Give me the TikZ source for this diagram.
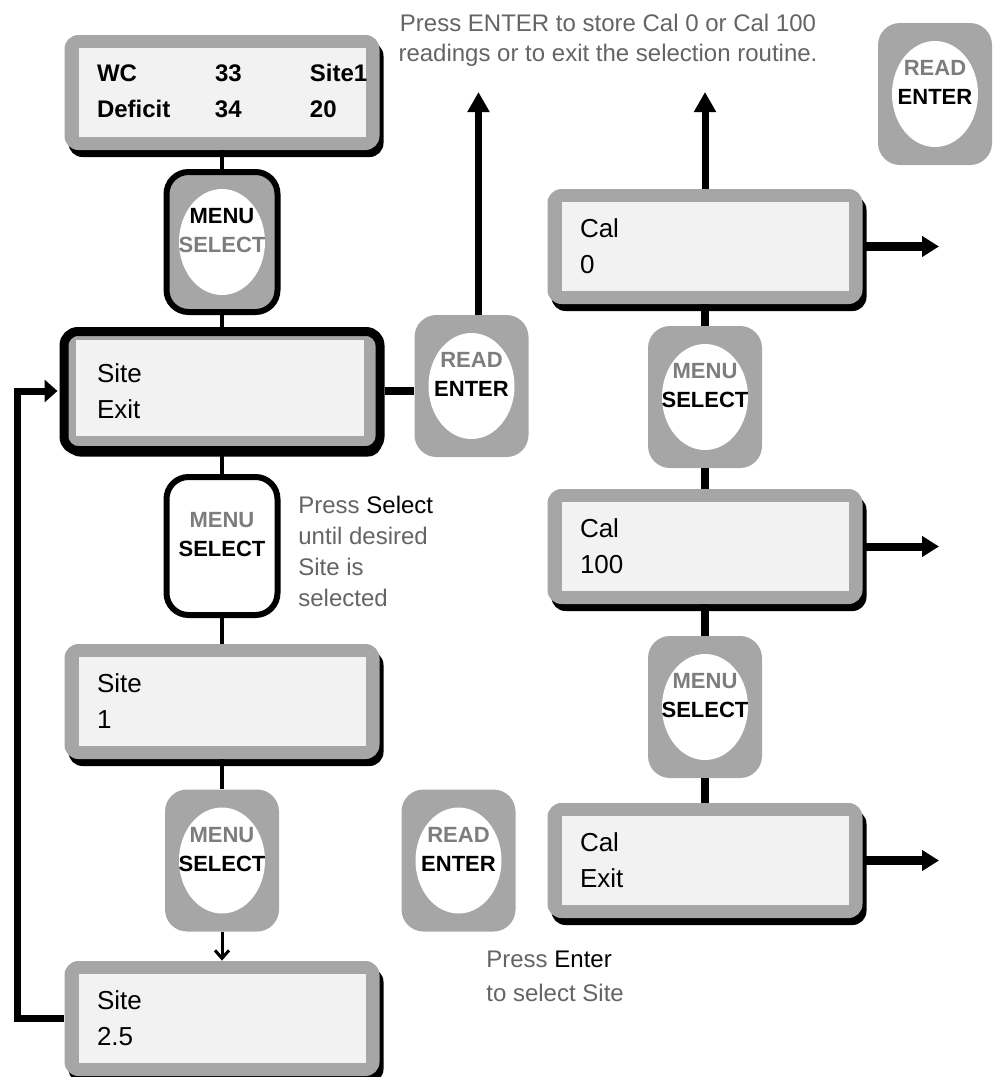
\documentclass[tikz,border=0pt]{standalone}
\usepackage{fontspec}
\setmainfont{Liberation Sans}
\usepackage{tikz}
\usetikzlibrary{arrows.meta,positioning,calc,shadows}

\definecolor{lcdgray}{RGB}{166,166,166}
\definecolor{lcdlight}{RGB}{242,242,242}
\definecolor{keygray}{RGB}{125,125,125}
\definecolor{notegray}{RGB}{100,100,100}

\newcommand{\keytext}[4]{\begin{tabular}{@{}c@{}}\textcolor{#1}{#2}\\\textcolor{#3}{#4}\end{tabular}}

\begin{document}
\begin{tikzpicture}[x=0.5pt, y=-0.5pt,
    lcdbase/.style={rectangle, rounded corners=7pt, fill=lcdgray, inner xsep=16pt, inner ysep=0pt,
        text width=125pt, align=left, minimum width=157.5pt, minimum height=57.5pt,
        font=\fontsize{13}{18}\selectfont},
    lcd/.style={lcdbase, drop shadow={shadow xshift=2pt, shadow yshift=-3.5pt, fill=black, opacity=1},
        path picture={\fill[lcdlight, sharp corners] ([shift={(7pt,-6.5pt)}]path picture bounding box.north west)
            rectangle ([shift={(-7pt,6.5pt)}]path picture bounding box.south east);}},
    lcdsel/.style={lcdbase, draw=black, line width=4.5pt, minimum width=158pt, minimum height=59.5pt,
        drop shadow={shadow xshift=1pt, shadow yshift=-3pt, fill=black, opacity=1},
        path picture={\fill[lcdlight, sharp corners] ([shift={(5.75pt,-4.25pt)}]path picture bounding box.north west)
            rectangle ([shift={(-8.25pt,7.25pt)}]path picture bounding box.south east);}},
    key/.style={rectangle, rounded corners=11pt, fill=lcdgray, minimum width=57pt, minimum height=71pt,
        inner sep=0pt, font=\bfseries\fontsize{11}{14.5}\selectfont, text height=10pt, text depth=14pt,
        path picture={\fill[white] (path picture bounding box.center) ellipse [x radius=21.5pt, y radius=26.5pt];}},
    keysel/.style={key, draw=black, line width=3pt, minimum width=55.5pt, minimum height=70pt},
    keyopen/.style={keysel, fill=white, minimum height=69pt},
    note/.style={notegray, inner sep=0pt, font=\fontsize{12}{15}\selectfont},
    wire/.style={line width=2pt},
    bus/.style={line width=4pt},
    bigarrow/.style={line width=3.5pt, -{Triangle[width=10.5pt,length=10pt]}},
    outarrow/.style={line width=4.5pt, -{Triangle[width=10pt,length=8.5pt]}},
    backline/.style={line width=3.5pt, -{Triangle[width=11pt,length=6.5pt]}, shorten >=1pt},
    thinarrow/.style={line width=1.5pt, -{Straight Barb[length=4pt,width=7pt]}}]
    \useasboundingbox (0,0) rectangle (993,1077);

    % Site displays
    \node[lcd, font=\bfseries\fontsize{12}{18}\selectfont] (wc) at (222,92.5)
        {\begin{tabular}{@{}p{59pt}@{}p{47.5pt}@{}l@{}}WC & 33 & Site1\\Deficit & 34 & 20\end{tabular}};
    \node[lcdsel] (siteexit) at (222,391) {Site\\Exit};
    \node[lcd] (site1) at (222,701.5) {Site\\1};
    \node[lcd] (site25) at (222,1018.5) {Site\\2.5};

    % Keys left column
    \node[keysel] (menu1) at (222,242) {\keytext{black}{MENU}{keygray}{SELECT}};
    \node[keyopen] (menu2) at (222,546) {\keytext{keygray}{MENU}{black}{SELECT}};
    \node[key] (menu3) at (222,860.5) {\keytext{keygray}{MENU}{black}{SELECT}};

    % Enter keys
    \node[key] (enter1) at (471.5,386) {\keytext{keygray}{READ}{black}{ENTER}};
    \node[key] (enter2) at (458.5,860.5) {\keytext{keygray}{READ}{black}{ENTER}};
    \node[key] (enter3) at (935,94) {\keytext{keygray}{READ}{black}{ENTER}};

    % Cal displays
    \node[lcd] (cal0) at (705,246.5) {Cal\\0};
    \node[key] (menu4) at (705,397) {\keytext{keygray}{MENU}{black}{SELECT}};
    \node[lcd] (cal100) at (705,546.5) {Cal\\100};
    \node[key] (menu5) at (705,707) {\keytext{keygray}{MENU}{black}{SELECT}};
    \node[lcd] (calexit) at (705,860.5) {Cal\\Exit};

    % Notes
    \node[note, align=center] (topnote) at (608,40)
        {Press ENTER to store Cal 0 or Cal 100\\readings or to exit the selection routine.};
    \node[note, align=left, anchor=north west, font=\fontsize{12}{15.5}\selectfont] (selnote) at (298,496)
        {Press \textcolor{black}{Select}\\until desired\\Site is\\selected};
    \node[note, align=left, anchor=north west, font=\fontsize{12}{17}\selectfont] (enternote) at (486,951)
        {Press \textcolor{black}{Enter}\\to select Site};

    % Free ends
    \coordinate (up1) at (478.5,92);
    \coordinate (up2) at (705,92);
    \coordinate (out0) at (939,246.5);
    \coordinate (out100) at (939,546.5);
    \coordinate (outexit) at (939,860.5);
    \coordinate (loopc) at (17,1018.5);

    % Left column connectors
    \draw[wire] (wc) -- (menu1);
    \draw[wire] (menu1) -- (siteexit);
    \draw[wire] (siteexit) -- (menu2);
    \draw[wire] (menu2) -- (site1);
    \draw[wire] (site1) -- (menu3);
    \draw[thinarrow] (menu3) -- (site25);
    \draw[backline] (site25.west) -- (loopc) |- (siteexit.west);

    % Enter from site exit
    \draw[bus] (siteexit.east) -- (siteexit.east -| enter1.west);
    \draw[bigarrow] ([xshift=3.5pt]enter1.north) -- (up1);

    % Right column connectors
    \draw[bus] (cal0) -- (menu4);
    \draw[bus] (menu4) -- (cal100);
    \draw[bus] (cal100) -- (menu5);
    \draw[bus] (menu5) -- (calexit);
    \draw[bigarrow] (cal0) -- (up2);
    \draw[outarrow] (cal0) -- (out0);
    \draw[outarrow, line width=4pt] (cal100) -- (out100);
    \draw[outarrow] (calexit) -- (outexit);
\end{tikzpicture}
\end{document}
